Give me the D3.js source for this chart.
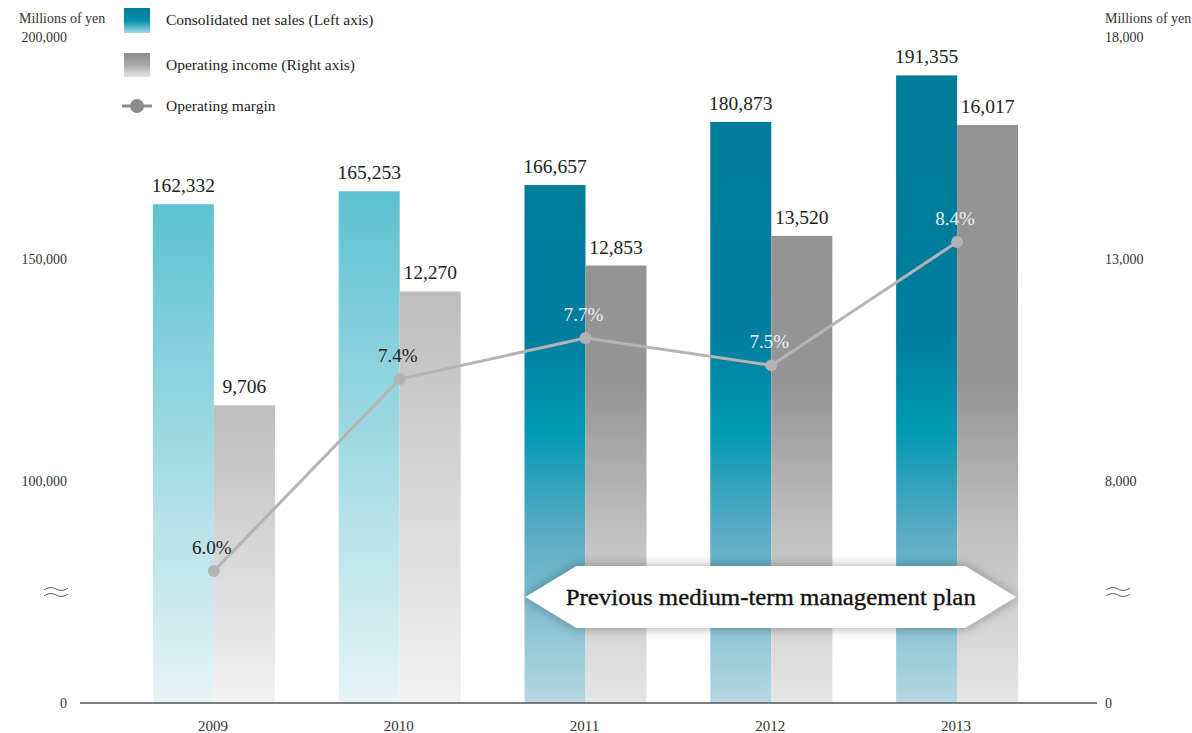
<!DOCTYPE html>
<html>
<head>
<meta charset="utf-8">
<script src="https://cdn.jsdelivr.net/npm/d3@7"></script>
<style>
  html, body { margin: 0; padding: 0; background: #fff; }
  svg { display: block; font-family: "Liberation Serif", "DejaVu Serif", serif; }
</style>
</head>
<body>
<svg id="chart" width="1192" height="733"></svg>
<script>
// ---- data ----
const years = ["2009", "2010", "2011", "2012", "2013"];
const netSales = [162332, 165253, 166657, 180873, 191355];       // millions of yen, left axis
const operatingIncome = [9706, 12270, 12853, 13520, 16017];      // millions of yen, right axis
const operatingMargin = [6.0, 7.4, 7.7, 7.5, 8.4];               // percent
const inPreviousPlan = [false, false, true, true, true];         // years covered by the earlier plan
const leftTicks = [0, 100000, 150000, 200000];
const rightTicks = [0, 8000, 13000, 18000];

const svg = d3.select("#chart");
const fmt = d3.format(",");

// ---- scales (broken axis below the second tick) ----
const x = d3.scaleBand().domain(years).range([121, 1050]).padding(0);
const yL = d3.scaleLinear().domain([0, 100000, 200000]).range([703, 481, 37]);
const yR = d3.scaleLinear().domain([0, 8000, 18000]).range([703, 481, 37]);
const yM = d3.scaleLinear().domain([6.0, 8.4]).range([571, 242]);
const barW = 61;

// ---- gradients ----
const defs = svg.append("defs");
function grad(id, stops, y1, y2) {
  const g = defs.append("linearGradient").attr("id", id)
    .attr("gradientUnits", y1 === undefined ? "objectBoundingBox" : "userSpaceOnUse")
    .attr("x1", 0).attr("x2", 0);
  if (y1 === undefined) g.attr("y1", 0).attr("y2", 1);
  else g.attr("y1", y1).attr("y2", y2);
  stops.forEach(([o, c]) => g.append("stop").attr("offset", o).attr("stop-color", c));
}
grad("salesLight", [[0, "#5dc1d1"], [1, "#e7f4f5"]]);
grad("salesDark", [[0, "#007a99"], [0.42, "#007e9d"], [0.57, "#0099b2"], [0.72, "#55a9c2"], [1, "#b6d7e2"]], 66, 703);
grad("incomeLight", [[0, "#bdbdbd"], [1, "#f2f2f2"]]);
grad("incomeDark", [[0, "#929292"], [0.45, "#959595"], [0.7, "#bfbfbf"], [1, "#e6e6e6"]], 125, 703);
grad("legSales", [[0, "#007a99"], [0.5, "#0090aa"], [1, "#a9d8e4"]]);
grad("legIncome", [[0, "#8e8e8e"], [0.5, "#a9a9a9"], [1, "#e4e4e4"]]);

const shadow = defs.append("filter").attr("id", "bannerShadow")
  .attr("x", "-10%").attr("y", "-40%").attr("width", "120%").attr("height", "180%");
shadow.append("feDropShadow").attr("dx", 0).attr("dy", 0)
  .attr("stdDeviation", 6).attr("flood-color", "#000").attr("flood-opacity", 0.35);

// ---- bars ----
const rows = years.map((y, i) => ({
  year: y, sales: netSales[i], income: operatingIncome[i],
  margin: operatingMargin[i], prev: inPreviousPlan[i]
}));
const center = d => x(d.year) + x.bandwidth() / 2;

svg.append("g").selectAll("rect").data(rows).join("rect")
  .attr("x", d => center(d) - barW)
  .attr("y", d => yL(d.sales))
  .attr("width", barW)
  .attr("height", d => yL(0) - yL(d.sales))
  .attr("fill", d => d.prev ? "url(#salesDark)" : "url(#salesLight)");

svg.append("g").selectAll("rect").data(rows).join("rect")
  .attr("x", d => center(d))
  .attr("y", d => yR(d.income))
  .attr("width", barW)
  .attr("height", d => yR(0) - yR(d.income))
  .attr("fill", d => d.prev ? "url(#incomeDark)" : "url(#incomeLight)");

// value labels
svg.append("g").selectAll("text").data(rows).join("text")
  .attr("x", d => center(d) - barW / 2)
  .attr("y", d => yL(d.sales) - 12)
  .attr("text-anchor", "middle").attr("font-size", 19.5).attr("fill", "#222")
  .text(d => fmt(d.sales));

svg.append("g").selectAll("text").data(rows).join("text")
  .attr("x", d => center(d) + barW / 2)
  .attr("y", d => yR(d.income) - 12)
  .attr("text-anchor", "middle").attr("font-size", 19.5).attr("fill", "#222")
  .text(d => fmt(d.income));

// ---- operating margin line ----
const line = d3.line().x(d => center(d)).y(d => yM(d.margin));
svg.append("path").datum(rows)
  .attr("d", line).attr("fill", "none")
  .attr("stroke", "#b4b4b4").attr("stroke-width", 3);
svg.append("g").selectAll("circle").data(rows).join("circle")
  .attr("cx", d => center(d)).attr("cy", d => yM(d.margin)).attr("r", 6)
  .attr("fill", "#b3b3b3");
svg.append("g").selectAll("text").data(rows).join("text")
  .attr("x", d => center(d) - 2)
  .attr("y", d => yM(d.margin) - 17)
  .attr("text-anchor", "middle").attr("font-size", 19)
  .attr("fill", d => d.prev ? "#e8f1f4" : "#222")
  .text(d => d.margin.toFixed(1) + "%");

// ---- banner for the previous plan period ----
const firstPrev = rows.find(d => d.prev), lastPrev = rows[rows.length - 1];
const bx0 = center(firstPrev) - barW + 1, bx1 = center(lastPrev) + barW - 2;
const by = 597, bh = 31, tip = 51;
const banner = svg.append("g");
banner.append("path")
  .attr("d", `M${bx0},${by} L${bx0 + tip},${by - bh} L${bx1 - tip},${by - bh} L${bx1},${by} L${bx1 - tip},${by + bh} L${bx0 + tip},${by + bh} Z`)
  .attr("fill", "#fff").attr("filter", "url(#bannerShadow)");
banner.append("text")
  .attr("x", (bx0 + bx1) / 2).attr("y", by + 8)
  .attr("text-anchor", "middle").attr("font-size", 23).attr("fill", "#111")
  .attr("stroke", "#111").attr("stroke-width", 0.35)
  .attr("textLength", 410).attr("lengthAdjust", "spacingAndGlyphs")
  .text("Previous medium-term management plan");

// ---- axes ----
svg.append("line").attr("x1", 80).attr("x2", 1097).attr("y1", yL(0)).attr("y2", yL(0))
  .attr("stroke", "#555").attr("stroke-width", 1.5);

const leftAxis = svg.append("g").attr("transform", "translate(67,0)")
  .call(d3.axisLeft(yL).tickValues(leftTicks).tickSize(0).tickPadding(0).tickFormat(fmt));
const rightAxis = svg.append("g").attr("transform", "translate(1105,0)")
  .call(d3.axisRight(yR).tickValues(rightTicks).tickSize(0).tickPadding(0).tickFormat(fmt));
[leftAxis, rightAxis].forEach(a => {
  a.select(".domain").remove();
  a.selectAll("text").attr("font-family", "Liberation Serif, serif")
    .attr("font-size", 14).attr("fill", "#333").attr("dy", "0.32em");
});

const xAxis = svg.append("g").attr("transform", `translate(0,${yL(0)})`)
  .call(d3.axisBottom(x).tickSize(0).tickPadding(17));
xAxis.select(".domain").remove();
xAxis.selectAll("text").attr("font-family", "Liberation Serif, serif")
  .attr("font-size", 15).attr("fill", "#333").attr("dx", "-1");

// unit captions
svg.append("text").attr("x", 19).attr("y", 23).attr("font-size", 14).attr("fill", "#333").text("Millions of yen");
svg.append("text").attr("x", 1105).attr("y", 23).attr("font-size", 14).attr("fill", "#333").text("Millions of yen");

// axis break marks
function breakMark(x0) {
  const g = svg.append("g").attr("fill", "none").attr("stroke", "#444").attr("stroke-width", 0.9);
  [589, 595].forEach(y0 => {
    g.append("path").attr("d",
      `M${x0},${y0 + 1} C${x0 + 4},${y0 - 2} ${x0 + 8},${y0 - 2} ${x0 + 12},${y0} S${x0 + 20},${y0 + 2} ${x0 + 24},${y0 - 1}`);
  });
}
breakMark(44);
breakMark(1106);

// ---- legend ----
const leg = svg.append("g");
leg.append("rect").attr("x", 124).attr("y", 8).attr("width", 26).attr("height", 25).attr("fill", "url(#legSales)");
leg.append("rect").attr("x", 124).attr("y", 53).attr("width", 26).attr("height", 24).attr("fill", "url(#legIncome)");
leg.append("line").attr("x1", 122).attr("x2", 152).attr("y1", 106).attr("y2", 106)
  .attr("stroke", "#8c8c8c").attr("stroke-width", 3);
leg.append("circle").attr("cx", 137).attr("cy", 106).attr("r", 7).attr("fill", "#8c8c8c");
const legendLabels = ["Consolidated net sales (Left axis)", "Operating income (Right axis)", "Operating margin"];
leg.selectAll("text.lab").data(legendLabels).join("text").attr("class", "lab")
  .attr("x", 166).attr("y", (d, i) => [25, 70, 111][i])
  .attr("font-size", 15.5).attr("fill", "#222").text(d => d);
</script>
</body>
</html>
